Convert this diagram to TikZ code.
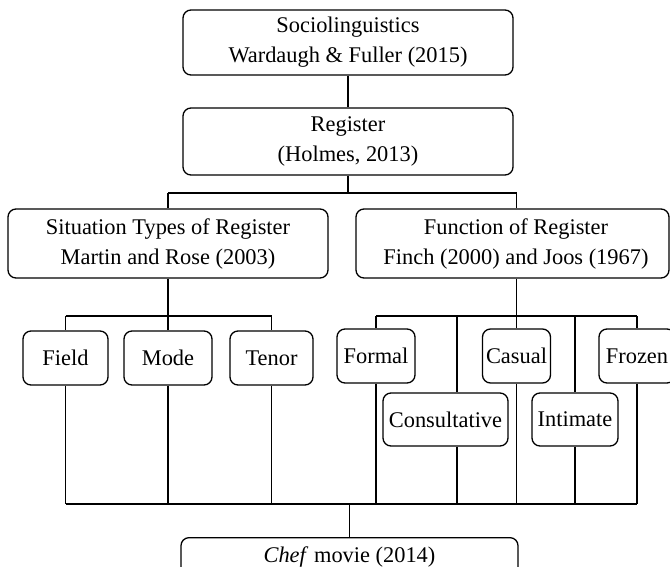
\documentclass[tikz,border=0pt]{standalone}
\usepackage{fontspec}
\setmainfont{Liberation Serif}
\usetikzlibrary{calc}
\begin{document}
\begin{tikzpicture}[x=1pt,y=-1pt,
  box/.style={draw, rounded corners=8pt, line width=1.3pt, align=center, inner sep=0pt,
    font=\fontsize{22.4pt}{30pt}\selectfont},
  ln/.style={line width=1.3pt}]
\useasboundingbox (0,0) rectangle (670,566);
\clip (0,0) rectangle (670,566);
% boxes
\node[box, minimum width=330pt, minimum height=65pt] (soc) at (348,42.5) {Sociolinguistics\\Wardaugh \& Fuller (2015)};
\node[box, minimum width=330pt, minimum height=67pt] (reg) at (348,141.5) {Register\\(Holmes, 2013)};
\node[box, minimum width=320pt, minimum height=69pt] (sit) at (168,243.5) {Situation Types of Register\\Martin and Rose (2003)};
\node[box, minimum width=313pt, minimum height=69pt] (fun) at (512.5,243.5) {\hspace*{7pt}Function of Register\\\hspace*{7pt}Finch (2000) and Joos (1967)};
\node[box, minimum width=85pt, minimum height=54pt] (field) at (65.5,358) {Field};
\node[box, minimum width=88pt, minimum height=54pt] (mode) at (168,358) {Mode};
\node[box, minimum width=83pt, minimum height=54pt] (tenor) at (271.5,358) {Tenor};
\node[box, minimum width=78pt, minimum height=54pt] (formal) at (376,356) {Formal};
\node[box, minimum width=68pt, minimum height=54pt] (cas) at (516.5,356) {Casual};
\node[box, minimum width=76pt, minimum height=54pt] (frozen) at (637,356) {Frozen};
\node[box, minimum width=125pt, minimum height=53pt] (con) at (445.5,419.5) {Consultative};
\node[box, minimum width=86pt, minimum height=53pt] (int) at (575,419.5) {Intimate};
\node[box, anchor=north, minimum width=337pt, inner ysep=9pt, text depth=40pt] (chef) at (349.5,537) {\textit{Chef} movie (2014)};
% bus coordinates
\coordinate (b1) at (0,193);
\coordinate (b2) at (0,316);
\coordinate (b3) at (0,504);
\coordinate (cx) at (457,0);
% level 1
\draw[ln] (soc.south) -- (reg.north);
\draw[ln] (reg.south) -- (reg.south |- b1);
\draw[ln] (sit.north |- b1) -- (cas.north |- b1);
\draw[ln] (sit.north |- b1) -- (sit.north);
\draw[ln] (cas.north |- b1) -- (cas.north |- fun.north);
% level 2 left
\draw[ln] (sit.south) -- (mode.north);
\draw[ln] (field.north |- b2) -- (tenor.north |- b2);
\draw[ln] (field.north |- b2) -- (field.north);
\draw[ln] (tenor.north |- b2) -- (tenor.north);
% level 2 right
\draw[ln] (cas.north |- fun.south) -- (cas.north);
\draw[ln] (formal.north |- b2) -- (frozen.north |- b2);
\draw[ln] (formal.north |- b2) -- (formal.north);
\draw[ln] (frozen.north |- b2) -- (frozen.north);
\draw[ln] (cx |- b2) -- (cx |- con.north);
\draw[ln] (int.north |- b2) -- (int.north);
% bottom bus
\draw[ln] (field.south |- b3) -- (frozen.south |- b3);
\draw[ln] (field.south) -- (field.south |- b3);
\draw[ln] (mode.south) -- (mode.south |- b3);
\draw[ln] (tenor.south) -- (tenor.south |- b3);
\draw[ln] (formal.south) -- (formal.south |- b3);
\draw[ln] (cx |- con.south) -- (cx |- b3);
\draw[ln] (cas.south) -- (cas.south |- b3);
\draw[ln] (int.south) -- (int.south |- b3);
\draw[ln] (frozen.south) -- (frozen.south |- b3);
\draw[ln] (chef.north |- b3) -- (chef.north);
\end{tikzpicture}
\end{document}
